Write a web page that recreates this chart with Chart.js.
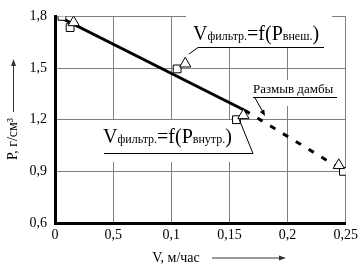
<!DOCTYPE html>
<html>
<head>
<meta charset="utf-8">
<script src="https://cdn.jsdelivr.net/npm/chart.js@4/dist/chart.umd.min.js"></script>
<style>
  html, body { margin: 0; padding: 0; background: #fff; }
  #box { width: 362px; height: 270px; }
</style>
</head>
<body>
<div id="box"><canvas id="myChart"></canvas></div>
<script>
// tick labels as printed on the original (0,5 is how it is written there)
const xTickLabels = ["0", "0,5", "0,1", "0,15", "0,2", "0,25"];
const yTickLabels = ["0,6", "0,9", "1,2", "1,5", "1,8"];

// square markers  - V, m/h and P, g/cm3
const vSquares = [0.006, 0.013, 0.105, 0.156, 0.248];
const pSquares = [1.80, 1.735, 1.495, 1.20, 0.90];

// triangle markers
const vTriangles = [0.016, 0.112, 0.162, 0.244];
const pTriangles = [1.765, 1.525, 1.225, 0.935];

// trend line: solid part, then dashed part after the dam washout
const vSolid = [0.004, 0.163];
const pSolid = [1.795, 1.255];
const vDashed = [0.163, 0.242];
const pDashed = [1.255, 0.93];

function pts(xs, ys) {
    const out = [];
    for (let i = 0; i < xs.length; i++) {
        out.push({ x: xs[i], y: ys[i] });
    }
    return out;
}

const SERIF = '"Liberation Serif", "DejaVu Serif", serif';

// draw text made of big and small parts on one baseline
function drawRich(ctx, parts, x, y) {
    ctx.textAlign = 'left';
    ctx.textBaseline = 'alphabetic';
    for (const p of parts) {
        ctx.font = p.size + 'px ' + SERIF;
        ctx.fillText(p.t, x, y);
        x += ctx.measureText(p.t).width;
    }
    return x;
}

function line(ctx, x1, y1, x2, y2, w) {
    ctx.beginPath();
    ctx.lineWidth = w || 1;
    ctx.moveTo(x1, y1);
    ctx.lineTo(x2, y2);
    ctx.stroke();
}

function arrowHead(ctx, x1, y1, x2, y2, len, half) {
    const a = Math.atan2(y2 - y1, x2 - x1);
    ctx.beginPath();
    ctx.moveTo(x2, y2);
    ctx.lineTo(x2 - len * Math.cos(a) + half * Math.sin(a), y2 - len * Math.sin(a) - half * Math.cos(a));
    ctx.lineTo(x2 - len * Math.cos(a) - half * Math.sin(a), y2 - len * Math.sin(a) + half * Math.cos(a));
    ctx.closePath();
    ctx.fill();
}

const notes = {
    id: 'notes',
    beforeDatasetsDraw(chart) {
        const ctx = chart.ctx;
        ctx.save();
        ctx.fillStyle = '#fff';
        // white boxes behind the labels (they hide the grid)
        ctx.fillRect(186, 14, 146, 33);
        ctx.fillRect(100, 120, 156, 42);
        ctx.fillRect(250, 80, 92, 26);
        ctx.restore();
    },
    afterDatasetsDraw(chart) {
        const ctx = chart.ctx;
        ctx.save();
        ctx.fillStyle = '#000';
        ctx.strokeStyle = '#000';

        // V filtr = f(P vnesh)
        drawRich(ctx, [
            { t: 'V', size: 20 }, { t: 'фильтр.', size: 12 },
            { t: '=f(P', size: 20 }, { t: 'внеш.', size: 12 }, { t: ')', size: 20 }
        ], 193, 40);
        line(ctx, 198, 47.5, 324, 47.5, 1);
        line(ctx, 198, 47.5, 189, 54, 1);

        // V filtr = f(P vnutr)
        drawRich(ctx, [
            { t: 'V', size: 20 }, { t: 'фильтр.', size: 12 },
            { t: '=f(P', size: 20 }, { t: 'внутр.', size: 12 }, { t: ')', size: 20 }
        ], 103, 143);
        line(ctx, 104, 153.5, 253, 153.5, 1);
        line(ctx, 253, 153.5, 239, 119, 1);

        // dam washout
        ctx.font = '13px ' + SERIF;
        ctx.textAlign = 'left';
        ctx.fillText('Размыв дамбы', 253, 93);
        line(ctx, 253, 97.5, 337, 97.5, 1);
        line(ctx, 255, 98, 263, 112, 1);
        arrowHead(ctx, 255, 98, 265, 116, 6, 2.5);

        // axis titles with arrows
        ctx.font = '14px ' + SERIF;
        ctx.textAlign = 'center';
        ctx.fillText('V, м/час', 176, 262);
        ctx.strokeStyle = '#333';
        ctx.fillStyle = '#333';
        line(ctx, 212, 258, 280, 258, 1);
        arrowHead(ctx, 212, 258, 286, 258, 7, 2.5);

        ctx.fillStyle = '#000';
        ctx.save();
        ctx.translate(17, 139);
        ctx.rotate(-Math.PI / 2);
        ctx.textAlign = 'center';
        ctx.fillText('P, г/см³', 0, 0);
        ctx.restore();
        ctx.fillStyle = '#333';
        line(ctx, 13.5, 112, 13.5, 66, 1);
        arrowHead(ctx, 13.5, 112, 13.5, 59, 7, 2.5);
        ctx.restore();
    }
};

new Chart(document.getElementById("myChart"), {
    type: 'scatter',
    data: {
        datasets: [
            {
                label: 'triangles',
                data: pts(vTriangles, pTriangles),
                pointStyle: 'triangle',
                pointRadius: 6.5,
                backgroundColor: '#fff',
                borderColor: '#000',
                borderWidth: 1,
                order: 0
            },
            {
                label: 'squares',
                data: pts(vSquares, pSquares),
                pointStyle: 'rect',
                pointRadius: 5.5,
                backgroundColor: '#fff',
                borderColor: '#000',
                borderWidth: 1,
                order: 1
            },
            {
                label: 'solid',
                data: pts(vSolid, pSolid),
                showLine: true,
                pointRadius: 0,
                borderColor: '#000',
                borderWidth: 3,
                order: 2
            },
            {
                label: 'dashed',
                data: pts(vDashed, pDashed),
                showLine: true,
                pointRadius: 0,
                borderColor: '#000',
                borderWidth: 3,
                borderDash: [6, 9],
                order: 2
            }
        ]
    },
    options: {
        responsive: true,
        maintainAspectRatio: false,
        animation: false,
        layout: { padding: { top: 8, right: 10, left: 0, bottom: 0 } },
        plugins: {
            legend: { display: false },
            tooltip: { enabled: false }
        },
        scales: {
            x: {
                type: 'linear',
                min: 0,
                max: 0.25,
                afterFit: function(s) { s.height = 47; },
                afterBuildTicks: function(s) {
                    s.ticks = xTickLabels.map((t, i) => ({ value: i * 0.05 }));
                },
                ticks: {
                    color: '#000',
                    font: { family: SERIF, size: 14 },
                    padding: 4,
                    maxRotation: 0,
                    autoSkip: false,
                    callback: function(v, i) { return xTickLabels[i]; }
                },
                grid: { color: '#808080', lineWidth: 1, drawTicks: false },
                border: { color: '#000', width: 3 }
            },
            y: {
                type: 'linear',
                min: 0.6,
                max: 1.8,
                afterFit: function(s) { s.width = 55; },
                afterBuildTicks: function(s) {
                    s.ticks = yTickLabels.map((t, i) => ({ value: 0.6 + i * 0.3 }));
                },
                ticks: {
                    color: '#000',
                    font: { family: SERIF, size: 14 },
                    padding: 8,
                    autoSkip: false,
                    callback: function(v, i) { return yTickLabels[i]; }
                },
                grid: { color: '#808080', lineWidth: 1, drawTicks: false },
                border: { color: '#000', width: 3 }
            }
        }
    },
    plugins: [notes]
});
</script>
</body>
</html>
